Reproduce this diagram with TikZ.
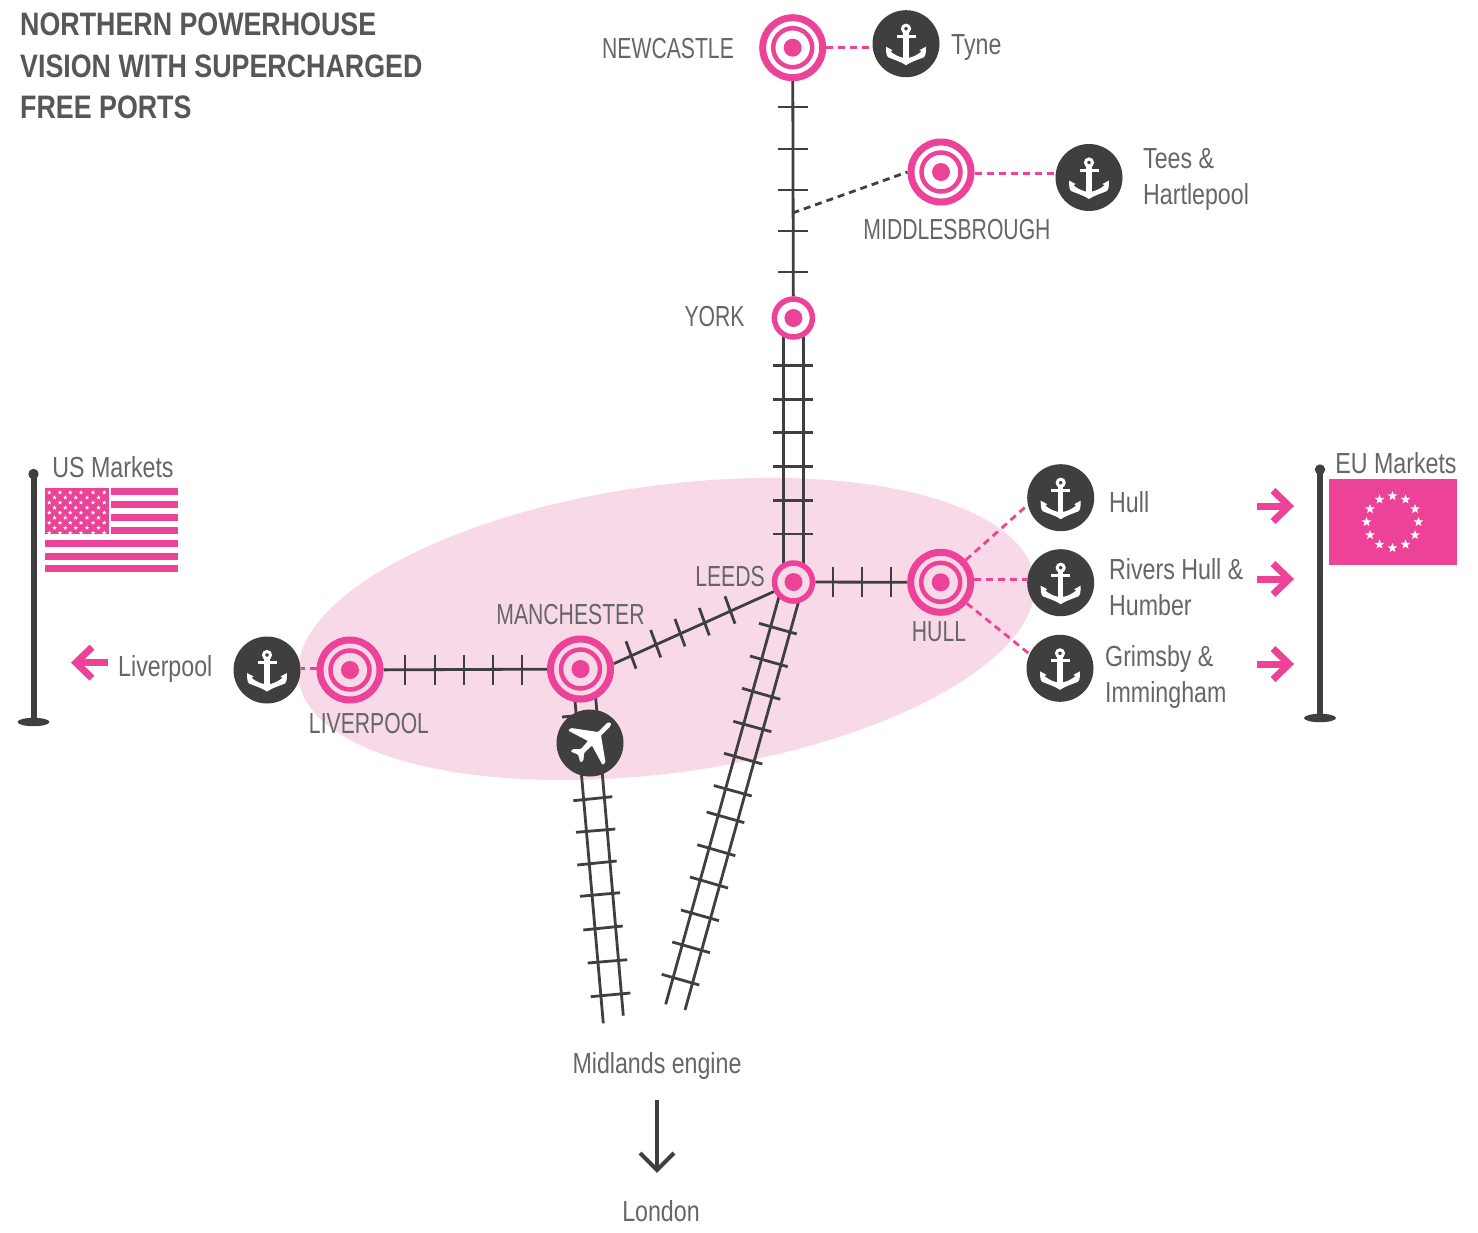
\documentclass[tikz,border=0pt]{standalone}
\usepackage{fontspec}
\setmainfont{Liberation Sans}
\newfontfamily\labelfont[FakeStretch=0.80]{Liberation Sans}
\newfontfamily\capfont[FakeStretch=0.73]{Liberation Sans}
\newfontfamily\titlefont[FakeStretch=0.825]{Liberation Sans}
\usetikzlibrary{calc}
\pgfdeclarelayer{blobs}
\pgfdeclarelayer{rails}
\pgfsetlayers{blobs,rails,main}
\definecolor{hotpink}{HTML}{EC4399}
\definecolor{palepink}{HTML}{F8D9E8}
\definecolor{darkgrey}{HTML}{3F3F3F}
\definecolor{textgrey}{HTML}{666666}
\definecolor{titlegrey}{HTML}{575757}
\tikzset{
  rail/.style={draw=darkgrey,line width=2.8pt},
  pinkdash/.style={draw=hotpink,line width=2.8pt,dash pattern=on 7pt off 5pt},
  greydash/.style={draw=darkgrey,line width=2.8pt,dash pattern=on 7pt off 5pt},
  blob/.style={circle,fill=darkgrey,minimum size=67pt,inner sep=0pt,outer sep=0pt},
  ringbig/.style={circle,draw=hotpink,line width=7pt,minimum size=60pt,inner sep=0pt,outer sep=3.5pt},
  ringmid/.style={circle,draw=hotpink,line width=4.5pt,minimum size=39pt,inner sep=0pt},
  ringsmall/.style={circle,draw=hotpink,line width=5.5pt,minimum size=38pt,inner sep=0pt,outer sep=2.75pt},
  dot/.style={circle,fill=hotpink,minimum size=18pt,inner sep=0pt},
  lab/.style={text=textgrey,inner sep=0pt,font=\labelfont\fontsize{29}{36}\selectfont},
  caplab/.style={text=textgrey,inner sep=0pt,font=\capfont\fontsize{29}{36}\selectfont},
  lableft/.style={lab,anchor=west,align=left},
  titletext/.style={text=titlegrey,inner sep=0pt,anchor=north west,align=left,
     font=\titlefont\bfseries\fontsize{32.5}{41.5}\selectfont},
  pinkarrow/.style={draw=hotpink,line width=7pt,miter limit=10},
  anchorglyph/.pic={
    \draw[white,line width=3pt] (0,-15) circle (3.5);
    \fill[white] (-2.6,-11.5) rectangle (2.6,18);
    \fill[white] (-9.5,-9) rectangle (9.5,-6);
    \fill[white] (-20,3) -- (-13.5,6.5) -- (-15.5,7.8)
      .. controls (-11,11.5) and (-6,14) .. (0,14.5)
      .. controls (6,14) and (11,11.5) .. (15.5,7.8)
      -- (13.5,6.5) -- (20,3)
      .. controls (20,11) and (19,13) .. (18,13.5)
      .. controls (12,16) and (5,18) .. (0,21.5)
      .. controls (-5,18) and (-12,16) .. (-18,13.5)
      .. controls (-19,13) and (-20,11) .. (-20,3) -- cycle;
  },
  planeglyph/.pic={
    \fill[white,rounded corners=1pt] (17.5,-20.5) -- (8,-11) -- (-19,-15) -- (-22,-12.5)
      -- (-2,-2) -- (-9,6) -- (-17,6) -- (-19.5,8.5) -- (-12,11.5) -- (-9.5,19.5)
      -- (-6.5,17.5) -- (-6,10) -- (2,2.5) -- (12.5,22) -- (15.5,19.5) -- (11,-7.5)
      -- (20.5,-17) -- (21,-20.5) -- cycle;
  },
}
\newcommand{\flagstar}[2]{%
  \fill[white,shift={#1}] (-90:#2) -- (-54:.42*#2) -- (-18:#2) -- (18:.42*#2) -- (54:#2)
    -- (90:.42*#2) -- (126:#2) -- (162:.42*#2) -- (198:#2) -- (234:.42*#2) -- cycle;}
\newcommand{\bigtarget}[4]{%
  \node[ringbig,fill=#4] (#1) at (#2,#3) {};
  \node[ringmid] (#1-ring) at (#1) {};
  \node[dot] (#1-dot) at (#1) {};}
\newcommand{\smalltarget}[4]{%
  \node[ringsmall,fill=#4] (#1) at (#2,#3) {};
  \node[dot] (#1-dot) at (#1) {};}
\newcommand{\portblob}[3]{%
  \node[blob] (#1) at (#2,#3) {};
  \pic at (#1) {anchorglyph};}
\newcommand{\arrowright}[2]{%
  \coordinate (#1-s) at (1257,#2); \coordinate (#1-e) at (1289,#2);
  \draw[pinkarrow] (#1-s) -- (#1-e);
  \draw[pinkarrow] ($(#1-e)+(-16,-15.5)$) -- (#1-e) -- ($(#1-e)+(-16,15.5)$);}
\begin{document}
\begin{tikzpicture}[x=1pt,y=-1pt]
\useasboundingbox (0,0) rectangle (1478,1232);
\begin{pgfonlayer}{blobs}
\fill[white] (0,0) rectangle (1478,1232);
\fill[palepink,shift={(666.5,629)},rotate=7.8] (0,0) ellipse [x radius=371.4,y radius=143.7];
\end{pgfonlayer}

% stations
\bigtarget{newcastle}{792.7}{47.7}{white}
\bigtarget{middlesbrough}{941}{172}{white}
\smalltarget{york}{793.4}{318}{white}
\smalltarget{leeds}{793.5}{582}{palepink}
\bigtarget{hull}{940.7}{582.3}{palepink}
\bigtarget{manchester}{580.5}{669}{palepink}
\bigtarget{liverpool}{350}{670}{palepink}

% ports and airport
\portblob{tyne}{906}{43.7}
\portblob{tees}{1089}{177.5}
\portblob{porthull}{1060.7}{497.7}
\portblob{rivers}{1060.7}{582.7}
\portblob{grimsby}{1060}{668.3}
\portblob{portliv}{267}{670}
\node[blob] (airport) at (590,743) {};
\pic at (airport) {planeglyph};

% free ends
\coordinate (junction) at (792.5,213);
\coordinate (mlbottom) at (603.3,1023.3);
\coordinate (mrbottom) at (623.3,1015.7);
\coordinate (llbottom) at (665.7,1004.3);
\coordinate (lrbottom) at (685,1010);

\begin{pgfonlayer}{rails}
\draw[rail] (newcastle) -- (york);
\foreach \y in {107,149,190,231,272} \draw[rail] (777.5,\y) -- (807.5,\y);
\draw[rail] ($(york)+(-10,0)$) -- ($(leeds)+(-10,0)$);
\draw[rail] ($(york)+(10,0)$) -- ($(leeds)+(10,0)$);
\foreach \y in {365.7,399.3,432.7,466.7,500.3,534} \draw[rail] (773.3,\y) -- (813.3,\y);
\draw[rail] (leeds) -- (hull);
\foreach \x in {833,862,891} \draw[rail] (\x,567) -- (\x,597);
\draw[rail] (manchester) -- (liverpool);
\foreach \x in {405,435,464,493,522} \draw[rail] (\x,654.5) -- (\x,684.5);
\draw[rail] (manchester.9.6) -- (leeds.206);
\foreach \x/\y in {730/610,704.3/621.7,680/632.7,655.7/643.7,631/655}
  \draw[rail] (\x-5,\y-13.7) -- (\x+5,\y+13.7);
% Leeds to the Midlands
\draw[rail] ($(leeds)+(-13.5,11)$) -- (llbottom);
\draw[rail] ($(leeds)+(5.5,18)$) -- (lrbottom);
\foreach \a/\b/\c/\d in {759/623.3/796.7/634, 750/656/787.7/666.7, 742/688.3/780.3/699.3,
   733.3/721.3/771.3/731.7, 724/753.3/762.3/764, 713.8/785.5/751.7/796, 706.7/812/744.3/822.7,
   697.3/844.7/735.3/855.7, 690/877/728/888, 681/910/719/920.7, 672.3/942/710/952.7,
   661.7/974.3/699.3/985}
  \draw[rail] (\a,\b) -- (\c,\d);
% Manchester to the Midlands
\draw[rail] ($(manchester)+(-7,15)$) -- (mlbottom);
\draw[rail] ($(manchester)+(14,15)$) -- (mrbottom);
\foreach \a/\b/\c/\d in {562/717/601/713.5, 573.3/800.7/612.3/796.7, 576/832.3/615.3/829,
   577.3/865/616.7/861, 580/896.3/620/892.7, 583.3/930/622.7/926, 587.7/963/627.3/959.7,
   590.7/996.7/630.3/993}
  \draw[rail] (\a,\b) -- (\c,\d);
% dashed links
\draw[greydash] (junction) -- (middlesbrough.west);
\draw[pinkdash] (newcastle.east) -- (newcastle.east -| tyne.west);
\draw[pinkdash] (middlesbrough.east |- 0,173.3) -- (tees.west |- 0,173.3);
\draw[pinkdash] (hull) -- (porthull.192);
\draw[pinkdash] (hull.east |- 0,579.3) -- (rivers.west |- 0,579.3);
\draw[pinkdash] (hull) -- (grimsby.155);
\draw[pinkdash] (liverpool.west |- 0,668.7) -- (portliv.east |- 0,668.7);
\end{pgfonlayer}

% flags
\fill[darkgrey] (30.5,474) rectangle (36.5,720);
\fill[darkgrey] (33.5,474) circle (5.2);
\fill[darkgrey] (33.5,722) ellipse [x radius=16,y radius=4.2];
\fill[hotpink] (45,487.7) rectangle (109,533.5);
\foreach \y in {487.7,501,514,527} \fill[hotpink] (110.7,\y) rectangle (178,\y+7);
\foreach \y in {540,553,565} \fill[hotpink] (45,\y) rectangle (178,\y+7);
\foreach \r in {0,2,4,6,8} \foreach \x in {49.3,60,70.3,81,93,104.3}
  {\flagstar{(\x,492.5+\r*5.05)}{2.3}}
\foreach \r in {1,3,5,7} \foreach \x in {54.5,65.3,75.7,87,98.5}
  {\flagstar{(\x,492.5+\r*5.05)}{2.3}}

\fill[darkgrey] (1317,470) rectangle (1323,716);
\fill[darkgrey] (1320,469.5) circle (5.2);
\fill[darkgrey] (1320,718) ellipse [x radius=16,y radius=4.2];
\fill[hotpink] (1329,479) rectangle (1457,565);
\foreach \i in {0,...,11} {\flagstar{($(1392.5,522)+(30*\i:26)$)}{5}}

% arrows
\arrowright{a}{506}
\arrowright{b}{579}
\arrowright{c}{664}
\coordinate (d-s) at (108,662.7); \coordinate (d-e) at (76,662.7);
\draw[pinkarrow] (d-s) -- (d-e);
\draw[pinkarrow] ($(d-e)+(16,-15.5)$) -- (d-e) -- ($(d-e)+(16,15.5)$);

% labels
\node[titletext] (title) at (20,13) {NORTHERN POWERHOUSE\\VISION WITH SUPERCHARGED\\FREE PORTS};
\node[caplab] (lnewcastle) at (668,48.5) {NEWCASTLE};
\node[lableft] (ltyne) at (951,48) {Tyne};
\node[lableft] (ltees) at (1143,179.5) {Tees \&\\Hartlepool};
\node[caplab] (lmiddlesbrough) at (957,230) {MIDDLESBROUGH};
\node[caplab] (lyork) at (714.5,317) {YORK};
\node[caplab] (lleeds) at (730,577) {LEEDS};
\node[caplab] (lmanchester) at (570.5,615) {MANCHESTER};
\node[caplab] (lhull) at (939,632) {HULL};
\node[caplab] (lliverpool) at (369,724) {LIVERPOOL};
\node[lableft] (lliv) at (118,669) {Liverpool};
\node[lab] (lus) at (113,467) {US Markets};
\node[lab] (leu) at (1396,463) {EU Markets};
\node[lableft] (lporthull) at (1109,502) {Hull};
\node[lableft] (lrivers) at (1109,587) {Rivers Hull \&\\Humber};
\node[lableft] (lgrimsby) at (1105,677) {Grimsby \&\\Immingham};
\node[lab] (lmidlands) at (657,1066) {Midlands engine};
\node[lab] (llondon) at (661,1211) {London};

% arrow to London
\coordinate (south-s) at (657,1100);
\coordinate (south-e) at (657,1170);
\draw[darkgrey,line width=4pt] (south-s) -- (south-e);
\draw[darkgrey,line width=4pt,miter limit=10] (640,1153) -- (south-e) -- (674,1153);
\end{tikzpicture}
\end{document}
